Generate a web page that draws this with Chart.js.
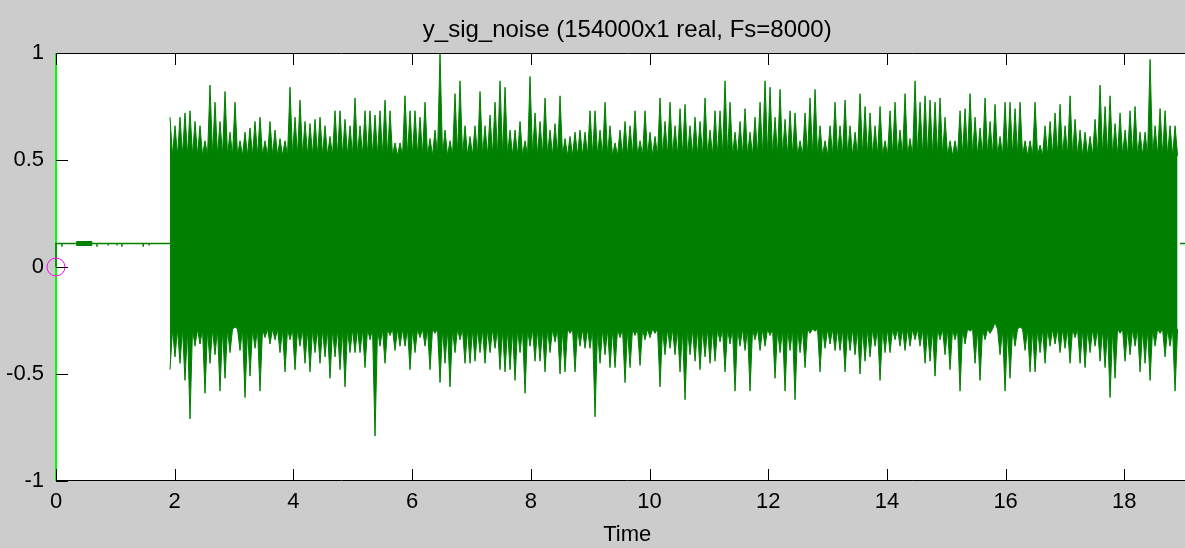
<!DOCTYPE html>
<html>
<head>
<meta charset="utf-8">
<title>y_sig_noise</title>
<script src="https://cdn.jsdelivr.net/npm/chart.js@4.4.0/dist/chart.umd.min.js"></script>
<style>
    html, body { margin: 0; padding: 0; background: #cccccc; overflow: hidden; }
    #wrap { width: 1200px; height: 548px; }
</style>
</head>
<body>
<div id="wrap"><canvas id="sigChart" width="1200" height="548"></canvas></div>
<script>
    // Signal: 154000 samples at Fs = 8000 -> 19.25 s
    const duration = 19.25;
    const title = 'y_sig_noise (154000x1 real, Fs=8000)';

    // Quiet lead-in before the noise burst (time s, amplitude)
    const quietT = [0, 0, 0.10, 0.10, 0.10, 0.69, 0.69, 0.69, 0.88, 0.88, 0.88, 1.03, 1.03, 1.03, 1.11, 1.11, 1.11, 1.47, 1.47, 1.47, 1.57, 1.57, 1.57, 1.921];
    const quietV = [0, 0.11, 0.11, 0.095, 0.11, 0.11, 0.095, 0.11, 0.11, 0.10, 0.11, 0.11, 0.10, 0.11, 0.11, 0.095, 0.11, 0.11, 0.095, 0.11, 0.11, 0.10, 0.11, 0.11];
    const burstT = [0.34, 0.61];
    const burstV = [0.11, 0.11];
    const tailT = [18.94, duration];
    const tailV = [0.11, 0.11];

    // Noise burst: peak max / min per time bin, and the edges of the solid core
    const noiseStart = 1.921;
    const binWidth = 0.08425;
    const coreTop = 0.52;
    const coreBottom = -0.29;
    const noiseHi = [
        0.70, 0.66, 0.70, 0.72, 0.73, 0.68, 0.66, 0.59, 0.85, 0.77,
        0.68, 0.82, 0.63, 0.77, 0.59, 0.63, 0.65, 0.68, 0.70, 0.59,
        0.68, 0.64, 0.60, 0.59, 0.84, 0.70, 0.78, 0.68, 0.67, 0.69,
        0.70, 0.66, 0.61, 0.73, 0.73, 0.69, 0.66, 0.79, 0.66, 0.73,
        0.73, 0.71, 0.73, 0.78, 0.73, 0.58, 0.58, 0.80, 0.73, 0.73,
        0.70, 0.77, 0.60, 0.64, 1.00, 0.64, 0.59, 0.81, 0.87, 0.66,
        0.61, 0.66, 0.82, 0.66, 0.71, 0.77, 0.87, 0.84, 0.64, 0.64,
        0.68, 0.59, 0.89, 0.72, 0.68, 0.79, 0.64, 0.67, 0.80, 0.60,
        0.61, 0.63, 0.64, 0.63, 0.73, 0.73, 0.64, 0.77, 0.66, 0.58,
        0.64, 0.68, 0.66, 0.73, 0.59, 0.73, 0.63, 0.61, 0.79, 0.68,
        0.77, 0.66, 0.74, 0.76, 0.66, 0.70, 0.68, 0.79, 0.64, 0.73,
        0.73, 0.87, 0.77, 0.63, 0.68, 0.74, 0.63, 0.70, 0.77, 0.87,
        0.84, 0.70, 0.83, 0.69, 0.73, 0.72, 0.59, 0.72, 0.79, 0.83,
        0.66, 0.59, 0.66, 0.77, 0.66, 0.78, 0.66, 0.63, 0.81, 0.75,
        0.72, 0.66, 0.75, 0.59, 0.73, 0.77, 0.64, 0.81, 0.60, 0.87,
        0.77, 0.80, 0.78, 0.77, 0.79, 0.70, 0.59, 0.59, 0.73, 0.74,
        0.81, 0.70, 0.65, 0.79, 0.68, 0.76, 0.61, 0.77, 0.77, 0.74,
        0.77, 0.59, 0.59, 0.77, 0.57, 0.66, 0.68, 0.72, 0.76, 0.66,
        0.80, 0.69, 0.64, 0.63, 0.61, 0.69, 0.85, 0.75, 0.80, 0.67,
        0.72, 0.64, 0.73, 0.75, 0.63, 0.63, 0.97, 0.66, 0.74, 0.73,
        0.66, 0.66
    ];
    const noiseLo = [
        -0.48, -0.42, -0.45, -0.53, -0.71, -0.37, -0.36, -0.59, -0.45, -0.41,
        -0.58, -0.52, -0.40, -0.28, -0.39, -0.61, -0.51, -0.38, -0.58, -0.33,
        -0.36, -0.34, -0.40, -0.49, -0.34, -0.48, -0.37, -0.45, -0.49, -0.40,
        -0.45, -0.42, -0.52, -0.42, -0.48, -0.56, -0.40, -0.40, -0.40, -0.47,
        -0.34, -0.79, -0.37, -0.45, -0.32, -0.39, -0.37, -0.37, -0.48, -0.40,
        -0.33, -0.37, -0.48, -0.31, -0.54, -0.45, -0.56, -0.40, -0.34, -0.45,
        -0.45, -0.44, -0.40, -0.45, -0.40, -0.38, -0.48, -0.49, -0.48, -0.53,
        -0.40, -0.59, -0.37, -0.44, -0.44, -0.49, -0.40, -0.35, -0.50, -0.49,
        -0.31, -0.49, -0.37, -0.38, -0.38, -0.70, -0.45, -0.41, -0.47, -0.47,
        -0.33, -0.54, -0.47, -0.32, -0.46, -0.34, -0.33, -0.31, -0.56, -0.41,
        -0.38, -0.41, -0.49, -0.62, -0.41, -0.44, -0.48, -0.42, -0.45, -0.44,
        -0.35, -0.49, -0.36, -0.58, -0.37, -0.39, -0.58, -0.34, -0.39, -0.37,
        -0.32, -0.52, -0.40, -0.58, -0.39, -0.62, -0.40, -0.47, -0.31, -0.30,
        -0.49, -0.38, -0.36, -0.39, -0.39, -0.49, -0.39, -0.41, -0.50, -0.44,
        -0.42, -0.37, -0.53, -0.40, -0.40, -0.34, -0.37, -0.39, -0.37, -0.34,
        -0.37, -0.45, -0.44, -0.51, -0.34, -0.41, -0.48, -0.34, -0.58, -0.36,
        -0.30, -0.45, -0.53, -0.34, -0.31, -0.26, -0.41, -0.58, -0.52, -0.37,
        -0.28, -0.39, -0.49, -0.49, -0.40, -0.45, -0.37, -0.36, -0.40, -0.38,
        -0.45, -0.33, -0.45, -0.47, -0.40, -0.37, -0.44, -0.47, -0.61, -0.52,
        -0.31, -0.44, -0.41, -0.37, -0.49, -0.45, -0.53, -0.37, -0.31, -0.42,
        -0.37, -0.58
    ];

    // Cursor ruler and marker at the origin
    const rulerT = [0, 0];
    const rulerV = [-1, 1];
    const markerT = [0];
    const markerV = [0];

    const xTicks = [0, 2, 4, 6, 8, 10, 12, 14, 16, 18];
    const yTicks = [-1, -0.5, 0, 0.5, 1];

    const sigGreen = '#008000';
    const tickFont = { family: "'Liberation Sans', Arial, sans-serif", size: 22 };

    const pts = (xs, ys) => xs.map((x, i) => ({ x: x, y: ys[i] }));

    // each bin: a peak at its start, then back to the core edge half a bin later
    function needles(peaks, core) {
        const out = [];
        peaks.forEach((v, i) => {
            const t = noiseStart + i * binWidth;
            out.push({ x: t, y: v });
            out.push({ x: t + binWidth / 2, y: core });
        });
        return out;
    }

    const plotBox = {
        id: 'plotBox',
        beforeDraw(chart) {
            const { ctx, chartArea: a } = chart;
            ctx.save();
            ctx.fillStyle = '#ffffff';
            ctx.fillRect(a.left, a.top, a.right - a.left, a.bottom - a.top);
            ctx.restore();
        },
        afterDatasetsDraw(chart) {
            const { ctx, chartArea: a, scales } = chart;
            ctx.save();
            ctx.strokeStyle = '#000000';
            ctx.lineWidth = 1;
            ctx.beginPath();
            ctx.moveTo(a.left, a.top + 0.5);
            ctx.lineTo(a.right, a.top + 0.5);
            ctx.moveTo(a.left, a.bottom - 0.5);
            ctx.lineTo(a.right, a.bottom - 0.5);
            xTicks.forEach(v => {
                const x = Math.round(scales.x.getPixelForValue(v)) + 0.5;
                ctx.moveTo(x, a.bottom);
                ctx.lineTo(x, a.bottom - 12);
                ctx.moveTo(x, a.top);
                ctx.lineTo(x, a.top + 12);
            });
            yTicks.forEach(v => {
                const y = Math.round(scales.y.getPixelForValue(v)) + 0.5;
                ctx.moveTo(a.left, y);
                ctx.lineTo(a.left + 12, y);
            });
            ctx.stroke();
            ctx.restore();
        },
        afterDraw(chart) {
            const { ctx, chartArea: a } = chart;
            ctx.save();
            ctx.fillStyle = '#000000';
            ctx.font = "24px 'Liberation Sans', Arial, sans-serif";
            ctx.textAlign = 'center';
            ctx.textBaseline = 'middle';
            ctx.fillText(title, (a.left + a.right) / 2, 30);
            ctx.restore();
        }
    };

    const ctx = document.getElementById('sigChart').getContext('2d');
    new Chart(ctx, {
        type: 'line',
        data: {
            datasets: [
                {
                    label: 'marker',
                    data: pts(markerT, markerV),
                    showLine: false,
                    pointRadius: 9,
                    pointBorderWidth: 1,
                    pointBorderColor: '#ff00ff',
                    pointBackgroundColor: 'rgba(0,0,0,0)',
                    clip: false,
                    order: 0
                },
                {
                    label: 'ruler',
                    data: pts(rulerT, rulerV),
                    borderColor: '#00ff00',
                    borderWidth: 2,
                    pointRadius: 0,
                    clip: false,
                    order: 1
                },
                {
                    label: 'quiet',
                    data: pts(quietT, quietV),
                    borderColor: sigGreen,
                    borderWidth: 1.5,
                    pointRadius: 0,
                    clip: false,
                    order: 0
                },
                {
                    label: 'burst',
                    data: pts(burstT, burstV),
                    borderColor: sigGreen,
                    borderWidth: 5,
                    pointRadius: 0,
                    order: 2
                },
                {
                    label: 'tail',
                    data: pts(tailT, tailV),
                    borderColor: sigGreen,
                    borderWidth: 1.5,
                    pointRadius: 0,
                    order: 2
                },
                {
                    label: 'max',
                    data: needles(noiseHi, coreTop),
                    borderColor: sigGreen,
                    backgroundColor: sigGreen,
                    borderWidth: 1,
                    pointRadius: 0,
                    fill: '+1',
                    order: 3
                },
                {
                    label: 'min',
                    data: needles(noiseLo, coreBottom),
                    borderColor: sigGreen,
                    borderWidth: 1,
                    pointRadius: 0,
                    order: 3
                }
            ]
        },
        options: {
            responsive: false,
            animation: false,
            events: [],
            layout: { autoPadding: false, padding: { top: 53, right: 1.5, left: 0, bottom: 0 } },
            plugins: {
                legend: { display: false },
                tooltip: { enabled: false },
                title: { display: false }
            },
            elements: { line: { tension: 0 } },
            scales: {
                x: {
                    type: 'linear',
                    min: 0,
                    max: duration,
                    grid: { display: false, drawTicks: false },
                    border: { display: false },
                    ticks: {
                        stepSize: 2,
                        includeBounds: false,
                        maxRotation: 0,
                        autoSkip: false,
                        padding: 8,
                        color: '#000',
                        font: tickFont,
                        callback: v => String(v)
                    },
                    title: {
                        display: true,
                        text: 'Time',
                        color: '#000',
                        font: tickFont,
                        padding: { top: 0, bottom: 0 }
                    },
                    afterFit: s => { s.height = 67; }
                },
                y: {
                    min: -1,
                    max: 1,
                    grid: { display: false, drawTicks: false },
                    border: { display: false },
                    ticks: {
                        stepSize: 0.5,
                        padding: 12,
                        color: '#000',
                        font: tickFont,
                        callback: v => String(v)
                    },
                    afterFit: s => { s.width = 56; }
                }
            }
        },
        plugins: [plotBox]
    });
</script>
</body>
</html>
